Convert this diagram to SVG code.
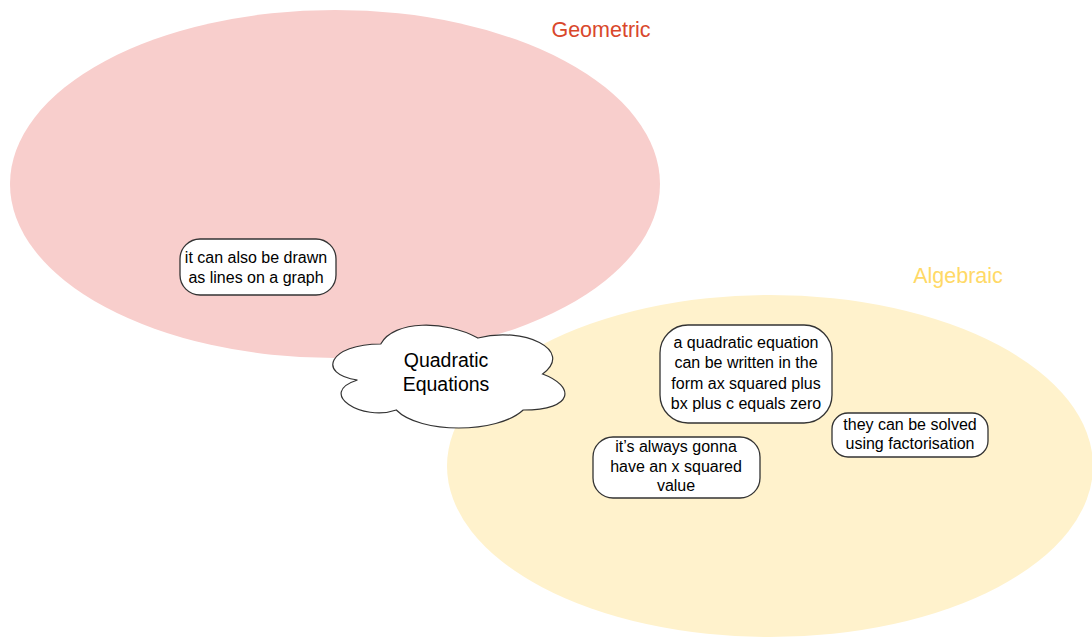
<svg xmlns="http://www.w3.org/2000/svg" width="1092" height="638" viewBox="0 0 1092 638">
<style>
.t{font-family:"Liberation Sans",Arial,sans-serif;font-size:16px;fill:#000;text-anchor:middle}
.box{fill:#fff;stroke:#333;stroke-width:1.3}
.lbl{font-family:"Liberation Sans",Arial,sans-serif;font-size:21.5px;text-anchor:middle}
</style>
<rect width="1092" height="638" fill="#fff"/>
<g id="geometric">
<ellipse cx="335" cy="184" rx="325" ry="174" fill="#f8cecc"/>
<text class="lbl" x="601" y="37" fill="#d9472b">Geometric</text>
</g>
<g id="algebraic">
<ellipse cx="770" cy="466" rx="323" ry="171" fill="#fff2cc"/>
<text class="lbl" x="958" y="283" fill="#ffd966">Algebraic</text>
</g>
<g id="connectors"></g>
<g id="quadratic">
<path d="M380.75,344 C328.95,344 316,374 357.44,380 C316,393.2 362.62,422 396.29,410 C419.6,434 497.3,434 523.2,410 C575,410 575,386 542.6,374 C575,350 523.2,326 477.9,338 C445.5,320 393.7,320 380.75,344 Z" fill="#fff" stroke="#333" stroke-width="1.2"/>
<text class="t" style="font-size:19.5px" x="446" y="367">Quadratic</text>
<text class="t" style="font-size:19.5px" x="446" y="391">Equations</text>
</g>
<g id="n1">
<rect class="box" x="180" y="239" width="156" height="56" rx="20"/>
<text class="t" x="256" y="263">it can also be drawn</text>
<text class="t" x="256" y="283">as lines on a graph</text>
</g>
<g id="n2">
<rect class="box" x="660" y="325" width="172" height="98" rx="28"/>
<text class="t" x="746" y="347.5">a quadratic equation</text>
<text class="t" x="746" y="368">can be written in the</text>
<text class="t" x="746" y="388.5">form ax squared plus</text>
<text class="t" x="746" y="409">bx plus c equals zero</text>
</g>
<g id="n3">
<rect class="box" x="593" y="437" width="167" height="61" rx="20"/>
<text class="t" x="676" y="452">it’s always gonna</text>
<text class="t" x="676" y="472">have an x squared</text>
<text class="t" x="676" y="491">value</text>
</g>
<g id="n4">
<rect class="box" x="832" y="413" width="156" height="44" rx="16"/>
<text class="t" x="910" y="430">they can be solved</text>
<text class="t" x="910" y="449">using factorisation</text>
</g>
</svg>
